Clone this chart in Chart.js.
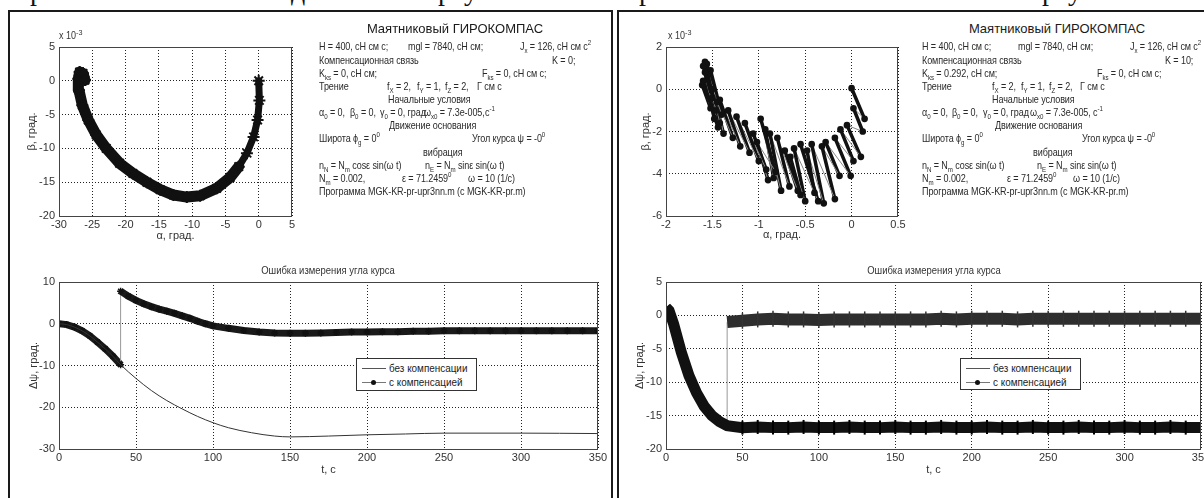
<!DOCTYPE html>
<html>
<head>
<meta charset="utf-8">
<script src="https://cdn.jsdelivr.net/npm/chart.js@4.4.1/dist/chart.umd.min.js"></script>
<style>
html, body { margin: 0; padding: 0; background: #fff; width: 1204px; height: 498px; overflow: hidden; }
body { position: relative; font-family: 'Liberation Sans', Arial, sans-serif; color: #222; }
.panel { position: absolute; top: 10px; height: 500px; border: 2px solid #1a1a1a; border-bottom: none; box-sizing: border-box; }
canvas { position: absolute; }
.t { position: absolute; white-space: nowrap; font-size: 11px; line-height: 12px; letter-spacing: -0.1px; color: #2a2a2a; transform: scaleX(0.82); transform-origin: 0 0; }
.t sub, .t sup { font-size: 7.5px; line-height: 0; }
.head { position: absolute; white-space: nowrap; font-size: 13px; line-height: 14px; color: #1a1a1a; transform: translateX(-50%); }
.ptitle { position: absolute; white-space: nowrap; font-size: 11px; line-height: 12px; color: #333; transform: translateX(-50%) scaleX(0.86); }
.mult { position: absolute; font-size: 10px; color: #333; white-space: nowrap; transform: scaleX(0.9); transform-origin: 0 0; }
.mult sup { font-size: 8px; }
.legend { position: absolute; background: #fff; border: 1px solid #333; box-sizing: border-box; }
.legend .row { position: absolute; left: 0; right: 0; height: 14px; }
.legend .ln { position: absolute; left: 5px; width: 24px; top: 7px; height: 1px; background: #555; }
.legend .dot { position: absolute; left: 14px; top: 5px; width: 5px; height: 5px; border-radius: 50%; background: #111; }
.legend .lb { position: absolute; left: 32px; top: 1px; font-size: 11px; line-height: 12px; color: #222; white-space: nowrap; transform: scaleX(0.9); transform-origin: 0 0; }
.cap { position: absolute; top: -24px; font-family: 'Liberation Serif', 'Times New Roman', serif; font-size: 28px; line-height: 30px; color: #111; }
</style>
</head>
<body>
<!-- обрезанная строка подписи над панелями -->
<span class="cap" style="left:30px">р</span>
<span class="cap" style="left:291px">д</span>
<span class="cap" style="left:438px">р</span>
<span class="cap" style="left:464px">у</span>
<span class="cap" style="left:639px">р</span>
<span class="cap" style="left:1042px">р</span>
<span class="cap" style="left:1068px">у</span>

<div class="panel" style="left:8px;width:605px"></div>
<div class="panel" style="left:617px;width:600px"></div>

<canvas id="phaseL" width="320" height="230" style="left:0;top:20px"></canvas>
<canvas id="phaseR" width="320" height="230" style="left:607px;top:20px"></canvas>
<canvas id="errL" width="610" height="225" style="left:0;top:255px"></canvas>
<canvas id="errR" width="615" height="225" style="left:607px;top:255px"></canvas>

<div class="mult" style="left:59px;top:28px">x 10<sup>-3</sup></div>
<div class="mult" style="left:668px;top:28px">x 10<sup>-3</sup></div>

<div class="ptitle" style="left:328px;top:264px">Ошибка измерения угла курса</div>
<div class="ptitle" style="left:934px;top:264px">Ошибка измерения угла курса</div>

<div class="legend" style="left:356px;top:358px;width:121px;height:33px">
  <div class="row" style="top:2px"><div class="ln"></div><div class="lb">без компенсации</div></div>
  <div class="row" style="top:16px"><div class="ln" style="background:#777"></div><div class="dot"></div><div class="lb">с компенсацией</div></div>
</div>
<div class="legend" style="left:960px;top:358px;width:121px;height:32px">
  <div class="row" style="top:2px"><div class="ln"></div><div class="lb">без компенсации</div></div>
  <div class="row" style="top:16px"><div class="ln" style="background:#777"></div><div class="dot"></div><div class="lb">с компенсацией</div></div>
</div>

<div id="info"></div>

<script>
// ---- фазовая траектория, K = 0 (β в единицах 1e-3) ----
const alphaL = [0, 0.1, -0.17, -0.77, -1.77, -3.0, -4.3, -6.3, -8.8, -10.8, -12.8, -14.8, -16.8, -18.9, -20.9, -22.9, -24.4, -25.6, -26.5, -27.0, -27.1, -26.9, -26.4, -26.1];
const betaL  = [0, -2.9, -5.8, -8.3, -10.7, -12.7, -14.3, -15.9, -17.0, -17.2, -16.9, -16.1, -15.0, -13.7, -12.2, -10.0, -8.0, -5.8, -3.6, -1.4, 0.3, 1.3, 1.1, 0.1];

// ---- фазовая траектория, K = 10: пары точек (верх штриха, низ штриха) ----
const alphaR = [0.00, 0.14, 0.02, 0.12, -0.05, 0.10, -0.12, 0.02, -0.18, -0.01, -0.28, -0.13, -0.32, -0.18, -0.43, -0.30,
                -0.48, -0.40, -0.55, -0.36, -0.62, -0.50, -0.66, -0.55, -0.72, -0.58, -0.80, -0.67, -0.88, -0.76, -0.93, -0.84,
                -0.98, -0.82, -1.02, -0.90, -1.06, -0.92, -1.15, -1.00, -1.24, -1.10, -1.33, -1.20, -1.42, -1.28, -1.50, -1.38,
                -1.52, -1.40, -1.55, -1.42, -1.56, -1.45, -1.58, -1.46, -1.58, -1.48, -1.60, -1.50, -1.61, -1.52, -1.60, -1.44];
const betaR  = [0.05, -1.40, -0.90, -2.00, -1.70, -3.20, -1.90, -3.40, -2.30, -4.10, -2.50, -4.10, -2.70, -5.20, -2.60, -5.40,
                -2.90, -4.90, -2.60, -5.30, -2.80, -5.30, -3.20, -5.00, -2.90, -4.80, -2.30, -4.60, -2.10, -4.80, -1.90, -4.20,
                -1.40, -3.90, -2.50, -4.30, -2.10, -3.80, -1.60, -3.40, -1.30, -3.00, -1.00, -2.70, -0.50, -2.30, 0.00, -2.10,
                0.90, -1.20, 0.70, -1.60, 1.20, -0.60, 1.30, -1.00, 0.80, -1.40, 1.10, -0.40, 0.20, -0.90, 0.40, -1.80];

// ---- ошибка курса, K = 0 ----
const tL = [0, 5, 10, 15, 20, 25, 30, 35, 40, 50, 60, 70, 80, 90, 100, 110, 125, 140, 150, 175, 200, 225, 250, 300, 350];
const psiNoCompL = [0, -0.2, -0.8, -1.7, -2.9, -4.4, -6.0, -7.8, -9.8, -13.1, -16.0, -18.4, -20.4, -22.2, -23.7, -24.9, -26.1, -26.9, -27.1, -26.9, -26.6, -26.4, -26.2, -26.2, -26.3];
const tCompL = [0, 5, 10, 15, 20, 25, 30, 35, 40, 40, 45, 50, 55, 60, 65, 70, 75, 80, 85, 90, 95, 100,
                110, 120, 130, 140, 150, 160, 170, 180, 190, 200, 210, 220, 230, 240, 250, 260, 270, 280, 290, 300, 310, 320, 330, 340, 350];
const psiCompL = [0, -0.2, -0.8, -1.7, -2.9, -4.4, -6.0, -7.8, -9.8, 7.8, 6.6, 5.6, 4.8, 4.1, 3.5, 3.0, 2.5, 1.9, 1.3, 0.6, 0.0, -0.5,
                  -1.1, -1.6, -2.0, -2.2, -2.3, -2.3, -2.2, -2.1, -2.0, -2.0, -1.9, -1.9, -1.8, -1.8, -1.7, -1.7, -1.7, -1.7, -1.7, -1.7, -1.7, -1.7, -1.7, -1.7, -1.7];

// ---- ошибка курса, K = 10 ----
const tR = [0, 2, 5, 10, 15, 20, 25, 30, 35, 40, 50, 60, 70, 80, 90, 100, 110, 120, 130, 140, 150, 160, 170, 180, 190,
            200, 210, 220, 230, 240, 250, 260, 270, 280, 290, 300, 310, 320, 330, 340, 350];
const psiNoCompR = [1.2, 0.7, -1.3, -5.5, -9.0, -11.6, -13.6, -15.0, -15.9, -16.5, -16.8, -16.7, -16.8, -16.8, -16.7, -16.8, -16.8, -16.7, -16.8, -16.8,
                    -16.7, -16.8, -16.8, -16.7, -16.8, -16.8, -16.7, -16.8, -16.8, -16.7, -16.8, -16.8, -16.7, -16.8, -16.8, -16.7, -16.8, -16.8, -16.7, -16.8, -16.8];
const tCompR = [40, 50, 60, 70, 80, 90, 100, 110, 120, 130, 140, 150, 160, 170, 180, 190, 200, 210, 220, 230, 240, 250, 260, 270, 280, 290, 300, 310, 320, 330, 340, 350];
const psiCompR = [-1.0, -0.8, -0.6, -0.5, -0.6, -0.6, -0.7, -0.6, -0.6, -0.6, -0.6, -0.6, -0.6, -0.6, -0.5, -0.6,
                  -0.5, -0.5, -0.5, -0.6, -0.5, -0.5, -0.5, -0.5, -0.5, -0.5, -0.5, -0.5, -0.5, -0.5, -0.5, -0.5];

// ---- тексты параметров ----
const infoLeft = [
  [319, 46, 'H = 400, сН см с;'], [408, 46, 'mgl = 7840, сН см;'], [520, 46, 'J<sub>x</sub> = 126, сН см с<sup>2</sup>'],
  [319, 59.5, 'Компенсационная связь'], [552, 59.5, 'K = 0;'],
  [319, 72.5, 'K<sub>ks</sub> = 0, сН см;'], [482, 72.5, 'F<sub>ks</sub> = 0, сН см с;'],
  [319, 86, 'Трение'], [387, 86, 'f<sub>X</sub> = 2,'], [417, 86, 'f<sub>Y</sub> = 1,'], [445, 86, 'f<sub>Z</sub> = 2,'], [477, 86, 'Г см с'],
  [388, 98.5, 'Начальные условия'],
  [319, 111.5, 'α<sub>0</sub> = 0,'], [350, 111.5, 'β<sub>0</sub> = 0,'], [380, 111.5, 'γ<sub>0</sub> = 0, град'], [424, 111.5, 'ω<sub>x0</sub> = 7.3e-005,'], [485, 111.5, 'c<sup>-1</sup>'],
  [389, 124.5, 'Движение основания'],
  [319, 138, 'Широта ϕ<sub>g</sub> = 0<sup>0</sup>'], [472, 138, 'Угол курса ψ = -0<sup>0</sup>'],
  [423, 151.5, 'вибрация'],
  [319, 165, 'n<sub>N</sub> = N<sub>m</sub> cosε sin(ω t)'], [425, 165, 'n<sub>E</sub> = N<sub>m</sub> sinε sin(ω t)'],
  [319, 178, 'N<sub>m</sub> = 0.002,'], [402, 178, 'ε = 71.2459<sup>0</sup>'], [468, 178, 'ω = 10 (1/c)'],
  [319, 190.5, 'Программа MGK-KR-pr-upr3nn.m (c MGK-KR-pr.m)']
];
const infoRight = [
  [922, 46, 'H = 400, сН см с;'], [1018, 46, 'mgl = 7840, сН см;'], [1130, 46, 'J<sub>x</sub> = 126, сН см с<sup>2</sup>'],
  [922, 59.5, 'Компенсационная связь'], [1165, 59.5, 'K = 10;'],
  [922, 72.5, 'K<sub>ks</sub> = 0.292, сН см;'], [1097, 72.5, 'F<sub>ks</sub> = 0, сН см с;'],
  [922, 86, 'Трение'], [992, 86, 'f<sub>X</sub> = 2,'], [1021, 86, 'f<sub>Y</sub> = 1,'], [1049, 86, 'f<sub>Z</sub> = 2,'], [1080, 86, 'Г см с'],
  [992, 98.5, 'Начальные условия'],
  [922, 111.5, 'α<sub>0</sub> = 0,'], [952, 111.5, 'β<sub>0</sub> = 0,'], [983, 111.5, 'γ<sub>0</sub> = 0, град'], [1030, 111.5, 'ω<sub>x0</sub> = 7.3e-005,'], [1093, 111.5, 'c<sup>-1</sup>'],
  [995, 124.5, 'Движение основания'],
  [922, 138, 'Широта ϕ<sub>g</sub> = 0<sup>0</sup>'], [1082, 138, 'Угол курса ψ = -0<sup>0</sup>'],
  [1033, 151.5, 'вибрация'],
  [922, 165, 'n<sub>N</sub> = N<sub>m</sub> cosε sin(ω t)'], [1037, 165, 'n<sub>E</sub> = N<sub>m</sub> sinε sin(ω t)'],
  [922, 178, 'N<sub>m</sub> = 0.002,'], [1007, 178, 'ε = 71.2459<sup>0</sup>'], [1073, 178, 'ω = 10 (1/c)'],
  [922, 190.5, 'Программа MGK-KR-pr-upr3nn.m (c MGK-KR-pr.m)']
];

function placeInfo(title, titleX, rows) {
  const box = document.getElementById('info');
  const h = document.createElement('div');
  h.className = 'head';
  h.style.left = titleX + 'px';
  h.style.top = '22px';
  h.textContent = title;
  box.appendChild(h);
  rows.forEach(([x, y, html]) => {
    const d = document.createElement('div');
    d.className = 't';
    d.style.left = x + 'px';
    d.style.top = (y - 6) + 'px';
    d.innerHTML = html;
    box.appendChild(d);
  });
}
placeInfo('Маятниковый ГИРОКОМПАС', 455, infoLeft);
placeInfo('Маятниковый ГИРОКОМПАС', 1057, infoRight);

// ---- общие настройки осей ----
Chart.defaults.animation = false;
Chart.defaults.font.family = "'Liberation Sans', Arial, sans-serif";
Chart.defaults.color = '#333';

const tickFont = { size: 11 };
const titleFont = { size: 11 };

// рамка вокруг области построения
const frame = {
  id: 'frame',
  afterDatasetsDraw(chart) {
    const { ctx, chartArea: a } = chart;
    ctx.save();
    ctx.strokeStyle = '#444';
    ctx.lineWidth = 1;
    ctx.strokeRect(Math.round(a.left) + 0.5, Math.round(a.top) + 0.5, Math.round(a.right - a.left) - 1, Math.round(a.bottom - a.top));
    ctx.restore();
  }
};

const plainNum = v => String(Math.round(v * 10) / 10);

function xAxis(min, max, step, title, h, pad) {
  return {
    type: 'linear', min: min, max: max,
    ticks: { stepSize: step, font: tickFont, padding: 2, maxRotation: 0, autoSkip: false, callback: plainNum },
    grid: { color: '#222', lineWidth: 1, drawTicks: false },
    border: { display: false, dash: [1, 2] },
    title: { display: true, text: title, font: titleFont, padding: { top: 0, bottom: pad } },
    afterFit: s => { s.height = h; }
  };
}
function yAxis(min, max, step, title, w, pad) {
  return {
    type: 'linear', min: min, max: max,
    ticks: { stepSize: step, font: tickFont, padding: 4, autoSkip: false, callback: plainNum },
    grid: { color: '#222', lineWidth: 1, drawTicks: false },
    border: { display: false, dash: [1, 2] },
    title: { display: true, text: title, font: titleFont, padding: { top: pad, bottom: 0 } },
    afterFit: s => { s.width = w; }
  };
}
function baseOptions(padding, x, y) {
  return {
    responsive: false,
    layout: { padding: padding },
    plugins: { legend: { display: false }, tooltip: { enabled: false } },
    events: [],
    scales: { x: x, y: y }
  };
}
const pts = (xs, ys) => xs.map((v, i) => ({ x: v, y: ys[i] }));

// фазовый портрет K = 0
new Chart(document.getElementById('phaseL'), {
  type: 'scatter',
  data: {
    datasets: [{
      data: pts(alphaL, betaL),
      showLine: true,
      borderColor: '#111',
      borderWidth: 10,
      borderJoinStyle: 'round',
      borderCapStyle: 'round',
      segment: { borderWidth: c => (c.p0.parsed.x > -2 ? 7 : 11) },
      pointStyle: 'star',
      pointRadius: 6,
      pointBorderWidth: 2,
      pointBorderColor: '#111',
      pointBackgroundColor: '#111'
    }]
  },
  options: baseOptions({ top: 27, right: 28, left: 0, bottom: 0 },
    xAxis(-30, 5, 5, 'α, град.', 34, 7.4),
    yAxis(-20, 5, 5, 'β, град.', 59, 25.4)),
  plugins: [frame]
});

// фазовый портрет K = 10: толстые штрихи, тонкие переходы между ними
new Chart(document.getElementById('phaseR'), {
  type: 'scatter',
  data: {
    datasets: [{
      data: pts(alphaR, betaR),
      showLine: true,
      borderColor: '#111',
      borderWidth: 3.5,
      borderCapStyle: 'round',
      borderJoinStyle: 'round',
      segment: {
        borderWidth: c => (c.p0DataIndex % 2 === 0 ? 3.5 : 1),
        borderColor: c => (c.p0DataIndex % 2 === 0 ? '#111' : '#888')
      },
      pointRadius: 1.6,
      pointBackgroundColor: '#111',
      pointBorderColor: '#111'
    }]
  },
  options: baseOptions({ top: 27, right: 29, left: 0, bottom: 0 },
    xAxis(-2, 0.5, 0.5, 'α, град.', 34, 8.4),
    yAxis(-6, 2, 2, 'β, град.', 59, 32.4)),
  plugins: [frame]
});

// ошибка курса, K = 0
new Chart(document.getElementById('errL'), {
  type: 'scatter',
  data: {
    datasets: [{
      label: 'без компенсации',
      data: pts(tL, psiNoCompL),
      showLine: true,
      borderColor: '#333',
      borderWidth: 1,
      cubicInterpolationMode: 'monotone',
      pointRadius: 0
    }, {
      label: 'с компенсацией',
      data: pts(tCompL, psiCompL),
      showLine: true,
      borderColor: '#1a1a1a',
      borderWidth: 7,
      segment: {
        borderWidth: c => (c.p0.parsed.x === c.p1.parsed.x ? 1 : 7),
        borderColor: c => (c.p0.parsed.x === c.p1.parsed.x ? '#999' : '#1a1a1a')
      },
      pointStyle: 'star',
      pointRadius: 3.5,
      pointBorderWidth: 1.5,
      pointBorderColor: '#111'
    }]
  },
  options: baseOptions({ top: 27, right: 12, left: 0, bottom: 0 },
    xAxis(0, 350, 50, 't, c', 31, 3.4),
    yAxis(-30, 10, 10, 'Δψ, град.', 59, 27.4)),
  plugins: [frame]
});

// ошибка курса, K = 10
const compR = pts(tR.filter(t => t <= 40), psiNoCompR.slice(0, 10)).concat(pts(tCompR, psiCompR));
new Chart(document.getElementById('errR'), {
  type: 'scatter',
  data: {
    datasets: [{
      label: 'без компенсации',
      data: pts(tR, psiNoCompR),
      showLine: true,
      borderColor: '#111',
      borderWidth: 11,
      pointStyle: 'line',
      rotation: 90,
      pointRadius: c => (c.parsed && c.parsed.x > 40 ? 7 : 0),
      pointBorderWidth: 2,
      pointBorderColor: '#000'
    }, {
      label: 'с компенсацией',
      data: compR,
      showLine: true,
      borderColor: '#2e2e2e',
      borderWidth: 12,
      segment: {
        borderWidth: c => (c.p0.parsed.x === c.p1.parsed.x ? 1 : (c.p0.parsed.x < 40 ? 9 : 12)),
        borderColor: c => (c.p0.parsed.x === c.p1.parsed.x ? '#999' : '#2e2e2e')
      },
      pointStyle: 'line',
      rotation: 90,
      pointRadius: c => (c.parsed && c.parsed.x > 40 ? 8 : 0),
      pointBorderWidth: 1.5,
      pointBorderColor: '#333'
    }]
  },
  options: baseOptions({ top: 27, right: 21, left: 0, bottom: 0 },
    xAxis(0, 350, 50, 't, c', 31, 3.4),
    yAxis(-20, 5, 5, 'Δψ, град.', 59, 26.4)),
  plugins: [frame]
});
</script>
</body>
</html>
